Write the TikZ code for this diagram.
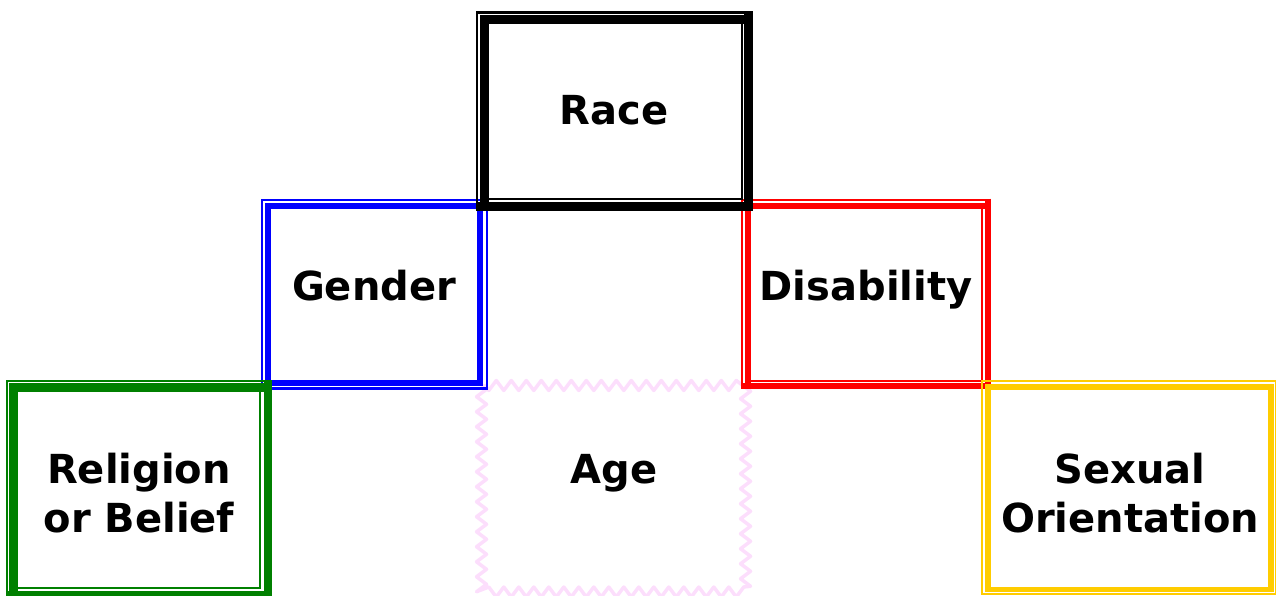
\documentclass[tikz,border=0pt]{standalone}
\usepackage{fontspec}
\newfontfamily\lblfont{DejaVu Sans}
\usetikzlibrary{decorations.pathmorphing}
\definecolor{gyellow}{RGB}{255,204,0}
\definecolor{ggreen}{RGB}{0,128,0}
\definecolor{agepink}{RGB}{252,222,252}
\begin{document}
\begin{tikzpicture}[x=1pt,y=-1pt,
  lbl/.style={font=\lblfont\bfseries\fontsize{40}{48.5}\selectfont, inner sep=0pt, align=center, anchor=base},
  thinln/.style={line width=2.2pt},
  agezz/.style={draw=agepink, line width=3.5pt, line join=round, decorate,
    decoration={zigzag, segment length=15pt, amplitude=5pt}}]
\useasboundingbox (0,0) rectangle (1276,596);
% Age (zigzag border)
\path[agezz] (481.5,385.5) rectangle (745.5,592);
% Gender (thin outside, thick inside)
\draw[thinln,blue] (261.8,199.6) rectangle (486.7,388.5);
\draw[line width=6pt,blue] (268,206.2) rectangle (480,383);
% Disability
\draw[thinln,red] (741.7,386.3)--(741.7,199.7)--(988,199.7);
\draw[thinln,red] (748,380.8)--(981.8,380.8)--(981.8,206.2);
\draw[line width=6pt,red] (748,386.3)--(748,206.2)--(988,206.2);
\draw[line width=6pt,red] (988,198.7)--(988,386.3)--(740.7,386.3);
% Race
\draw[thinln,black] (477,206.3)--(477,12.5)--(748.7,12.5);
\draw[thinln,black] (484.5,199.3)--(741.7,199.3)--(741.7,19.5);
\draw[line width=9pt,black] (484.5,206.3)--(484.5,19.5)--(748.7,19.5);
\draw[line width=9pt,black] (748.7,11.5)--(748.7,206.3)--(476,206.3);
% Religion or Belief
\draw[thinln,ggreen] (7,595)--(7,381)--(268,381);
\draw[thinln,ggreen] (13.3,588.2)--(260.3,588.2)--(260.3,387.7);
\draw[line width=8.5pt,ggreen] (13.3,595)--(13.3,387.7)--(268,387.7);
\draw[line width=8.5pt,ggreen] (268,380)--(268,595)--(6,595);
% Sexual Orientation
\draw[thinln,gyellow] (982,381) rectangle (1275.8,594.3);
\draw[line width=5.5pt,gyellow] (988,387) rectangle (1271,589.7);
% labels
\node[lbl] (race) at (614,125) {Race};
\node[lbl] (gender) at (374,300) {Gender};
\node[lbl] (disab) at (866,300) {Disability};
\node[lbl] (relig) at (139,532) {Religion\\or Belief};
\node[lbl] (age) at (614,483) {Age};
\node[lbl] (sexual) at (1130,532) {Sexual\\Orientation};
\end{tikzpicture}
\end{document}
